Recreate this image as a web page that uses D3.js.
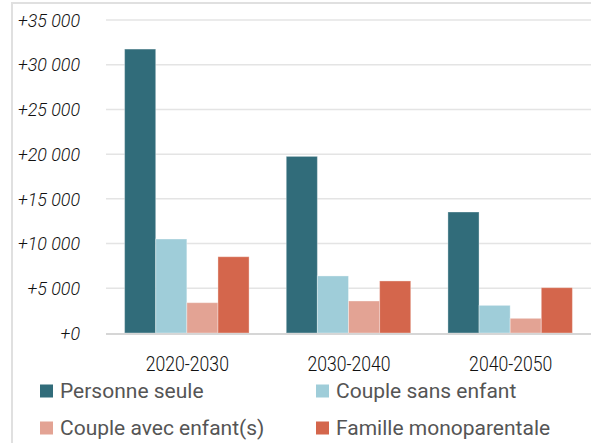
<!DOCTYPE html>
<html>
<head>
<meta charset="utf-8">
<script src="https://cdn.jsdelivr.net/npm/d3@7"></script>
<style>
  body { margin: 0; background: #fff; }
  svg { display: block; }
</style>
</head>
<body>
<svg width="591" height="443"></svg>
<script>
var width = 591;
var height = 443;

var periods = ['2020-2030', '2030-2040', '2040-2050'];
var seriesNames = ['Personne seule', 'Couple sans enfant', 'Couple avec enfant(s)', 'Famille monoparentale'];
var personneSeule = [31750, 19750, 13530];
var coupleSansEnfant = [10510, 6380, 3090];
var coupleAvecEnfants = [3390, 3580, 1640];
var familleMono = [8530, 5820, 5070];
var yTicks = [0, 5000, 10000, 15000, 20000, 25000, 30000, 35000];
var colors = ['#316c7a', '#9fcdd9', '#e3a394', '#d4664c'];

var values = [personneSeule, coupleSansEnfant, coupleAvecEnfants, familleMono];

var svg = d3.select('svg');

// frame
svg.append('path')
    .attr('d', 'M12,' + height + 'V3H' + width)
    .attr('fill', 'none')
    .attr('stroke', '#e0e0e0')
    .attr('stroke-width', 2);

var x0 = d3.scaleBand()
    .domain(periods)
    .range([106, 591])
    .paddingInner(0.23)
    .paddingOuter(0.115);

var x1 = d3.scaleBand()
    .domain(d3.range(seriesNames.length))
    .range([0, x0.bandwidth()]);

var y = d3.scaleLinear()
    .domain([0, 35000])
    .range([333, 20]);

var fmt = function(d) { return '+' + d3.format(',')(d).replace(/,/g, ' '); };

// grid
svg.append('g')
  .selectAll('line')
  .data(yTicks.slice(1))
  .enter().append('line')
    .attr('x1', 106).attr('x2', width)
    .attr('y1', function(d) { return y(d); })
    .attr('y2', function(d) { return y(d); })
    .attr('stroke', '#e4e4e4')
    .attr('stroke-width', 1.5);

// y labels (condensed look via horizontal scale)
svg.append('g')
  .selectAll('text')
  .data(yTicks)
  .enter().append('text')
    .attr('transform', function(d) { return 'translate(80,' + y(d) + ') scale(0.94,1)'; })
    .attr('dy', '0.35em')
    .attr('text-anchor', 'end')
    .attr('font-family', 'Roboto, sans-serif')
    .attr('font-style', 'italic')
    .attr('font-weight', 300)
    .attr('font-size', 19)
    .attr('fill', '#111')
    .text(fmt);

// bars
var groups = svg.append('g')
  .selectAll('g')
  .data(periods)
  .enter().append('g')
    .attr('transform', function(d) { return 'translate(' + x0(d) + ',0)'; });

groups.selectAll('rect')
    .data(function(d, i) { return values.map(function(s, k) { return { k: k, v: s[i] }; }); })
  .enter().append('rect')
    .attr('x', function(d) { return x1(d.k); })
    .attr('width', x1.bandwidth())
    .attr('y', function(d) { return y(d.v); })
    .attr('height', function(d) { return y(0) - y(d.v); })
    .attr('fill', function(d) { return colors[d.k]; })
    .attr('stroke', 'rgba(255,255,255,0.35)')
    .attr('stroke-width', 1);

// baseline
svg.append('line')
    .attr('x1', 106).attr('x2', width)
    .attr('y1', y(0) + 1).attr('y2', y(0) + 1)
    .attr('stroke', '#d6d6d6')
    .attr('stroke-width', 2);

// category labels
svg.append('g')
  .selectAll('text')
  .data(periods)
  .enter().append('text')
    .attr('transform', function(d) { return 'translate(' + (x0(d) + x0.bandwidth() / 2 + 0.5) + ',364) scale(0.88,1)'; })
    .attr('dy', '0.35em')
    .attr('text-anchor', 'middle')
    .attr('font-family', 'Roboto, sans-serif')
    .attr('font-weight', 300)
    .attr('font-size', 20)
    .attr('fill', '#111')
    .text(function(d) { return d; });

// legend
var legendPos = [[40, 391], [316, 391], [40, 428], [316, 428]];
var legend = svg.append('g')
  .selectAll('g')
  .data(seriesNames)
  .enter().append('g')
    .attr('transform', function(d, i) { return 'translate(' + legendPos[i][0] + ',' + legendPos[i][1] + ')'; });

legend.append('rect')
    .attr('x', 0).attr('y', -6.5)
    .attr('width', 13).attr('height', 13)
    .attr('fill', function(d, i) { return colors[i]; });

legend.append('text')
    .attr('x', 20)
    .attr('dy', '0.35em')
    .attr('font-family', 'Roboto, sans-serif')
    .attr('font-size', 21)
    .attr('fill', '#555')
    .text(function(d) { return d; });
</script>
</body>
</html>
